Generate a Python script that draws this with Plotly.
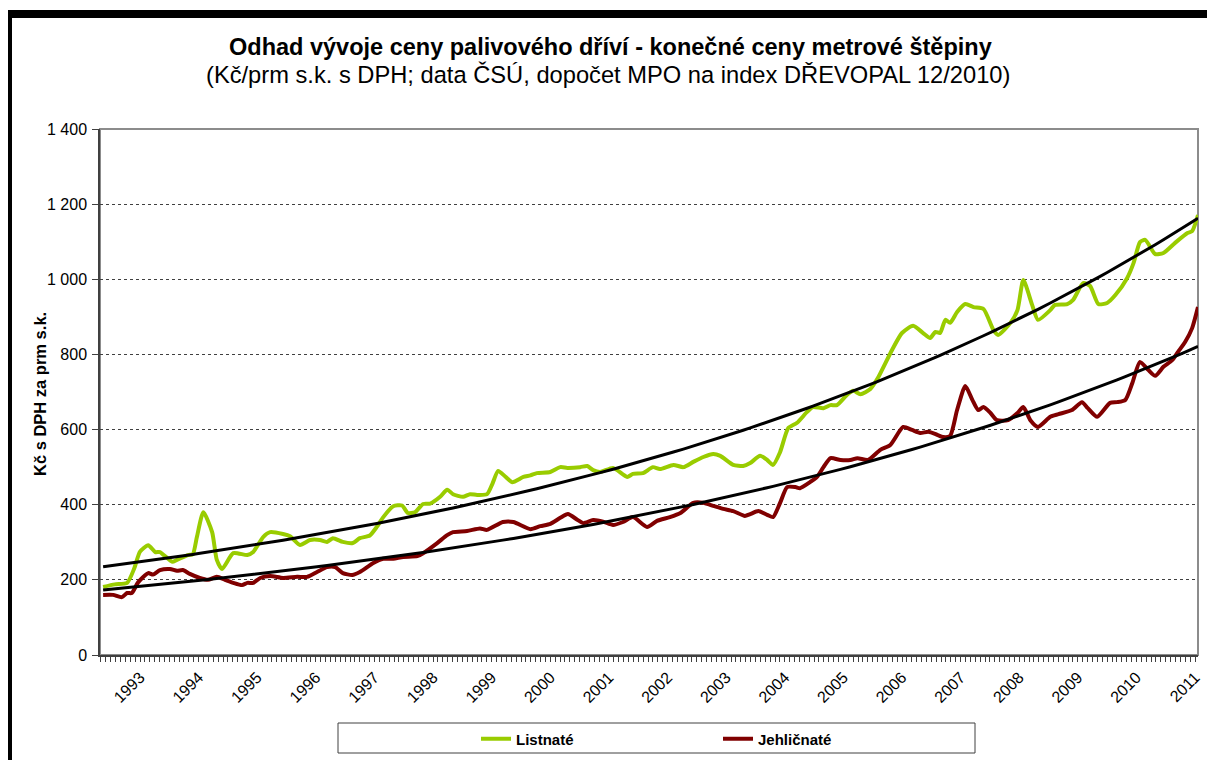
import numpy as np
import plotly.graph_objects as go

# data (decimal year, Kč/prm s.k.)
listnate_t = [1992.37, 1992.57, 1992.78, 1992.90, 1993.00, 1993.14, 1993.26, 1993.34, 1993.55, 1993.63,
              1993.82, 1993.90, 1993.97, 1994.08, 1994.23, 1994.31, 1994.40, 1994.59, 1994.83, 1994.93,
              1995.10, 1995.22, 1995.44, 1995.56, 1995.73, 1995.90, 1996.07, 1996.19, 1996.29, 1996.46,
              1996.63, 1996.75, 1996.92, 1997.04, 1997.15, 1997.32, 1997.47, 1997.57, 1997.69, 1997.83,
              1997.95, 1998.12, 1998.24, 1998.34, 1998.51, 1998.63, 1998.75, 1998.92, 1999.01, 1999.11,
              1999.23, 1999.35, 1999.54, 1999.66, 1999.77, 2000.00, 2000.17, 2000.29, 2000.51, 2000.63,
              2000.73, 2000.85, 2001.07, 2001.31, 2001.41, 2001.58, 2001.75, 2001.87, 2002.10, 2002.27,
              2002.44, 2002.61, 2002.78, 2002.90, 2003.12, 2003.29, 2003.41, 2003.58, 2003.70, 2003.80,
              2003.92, 2004.06, 2004.21, 2004.38, 2004.48, 2004.66, 2004.78, 2004.89, 2005.06, 2005.17,
              2005.29, 2005.46, 2005.58, 2005.83, 2006.00, 2006.19, 2006.36, 2006.48, 2006.57, 2006.65,
              2006.74, 2006.82, 2006.94, 2007.08, 2007.22, 2007.39, 2007.56, 2007.64, 2007.85, 2007.97,
              2008.07, 2008.22, 2008.32, 2008.53, 2008.61, 2008.82, 2008.92, 2009.09, 2009.21, 2009.35,
              2009.50, 2009.64, 2009.84, 2009.95, 2010.06, 2010.15, 2010.32, 2010.46, 2010.66, 2010.87,
              2010.95, 2011.05]
listnate_v = [181, 188, 192, 230, 275, 292, 274, 274, 248, 253,
              266, 268, 314, 380, 327, 253, 229, 271, 266, 274,
              314, 327, 322, 316, 293, 306, 306, 301, 311, 301,
              298, 311, 318, 341, 367, 396, 398, 378, 380, 402,
              403, 421, 440, 428, 421, 428, 426, 428, 455, 490,
              475, 460, 474, 478, 484, 487, 500, 498, 500, 503,
              492, 487, 498, 474, 482, 484, 500, 495, 506, 500,
              514, 527, 535, 530, 506, 503, 511, 530, 519, 506,
              540, 604, 618, 647, 660, 657, 665, 665, 692, 703,
              694, 708, 735, 812, 857, 876, 857, 844, 860, 857,
              892, 884, 913, 934, 926, 921, 865, 852, 884, 918,
              998, 932, 892, 918, 932, 934, 945, 990, 982, 934,
              937, 958, 1003, 1043, 1099, 1105, 1067, 1070, 1097, 1123,
              1128, 1171]

jehlicnate_t = [1992.37, 1992.54, 1992.69, 1992.78, 1992.86, 1992.97, 1993.14, 1993.22, 1993.34, 1993.51,
                1993.63, 1993.73, 1993.85, 1994.02, 1994.16, 1994.31, 1994.45, 1994.59, 1994.74, 1994.83,
                1994.93, 1995.05, 1995.22, 1995.44, 1995.68, 1995.85, 1996.02, 1996.19, 1996.33, 1996.46,
                1996.62, 1996.75, 1996.98, 1997.15, 1997.32, 1997.49, 1997.73, 1997.83, 1998.07, 1998.24,
                1998.34, 1998.58, 1998.80, 1998.92, 1999.19, 1999.37, 1999.66, 1999.83, 2000.00, 2000.17,
                2000.30, 2000.46, 2000.56, 2000.73, 2000.90, 2001.07, 2001.24, 2001.41, 2001.65, 2001.82,
                2002.04, 2002.22, 2002.44, 2002.61, 2002.78, 2002.95, 2003.12, 2003.32, 2003.41, 2003.55,
                2003.70, 2003.80, 2003.92, 2004.04, 2004.18, 2004.26, 2004.43, 2004.55, 2004.66, 2004.78,
                2004.95, 2005.12, 2005.24, 2005.42, 2005.63, 2005.80, 2006.02, 2006.17, 2006.31, 2006.45,
                2006.60, 2006.70, 2006.82, 2006.94, 2007.08, 2007.20, 2007.30, 2007.39, 2007.51, 2007.62,
                2007.81, 2007.97, 2008.07, 2008.19, 2008.32, 2008.53, 2008.67, 2008.90, 2009.07, 2009.17,
                2009.33, 2009.55, 2009.67, 2009.81, 2009.93, 2010.06, 2010.20, 2010.32, 2010.46, 2010.61,
                2010.71, 2010.83, 2010.95, 2011.05]
jehlicnate_v = [160, 160, 154, 165, 165, 194, 218, 214, 226, 229,
                224, 226, 216, 205, 200, 208, 200, 192, 186, 192,
                192, 205, 210, 205, 208, 208, 221, 234, 234, 218,
                213, 221, 245, 256, 256, 261, 263, 271, 298, 319,
                327, 330, 337, 333, 354, 354, 335, 343, 349, 365,
                375, 360, 351, 359, 355, 346, 354, 367, 341, 357,
                367, 378, 405, 405, 397, 389, 383, 370, 375, 383,
                373, 367, 405, 447, 447, 444, 460, 474, 500, 524,
                519, 519, 524, 519, 546, 559, 607, 599, 591, 594,
                586, 580, 583, 652, 716, 679, 652, 660, 644, 625,
                625, 644, 660, 625, 607, 634, 641, 652, 673, 657,
                634, 671, 673, 679, 724, 780, 759, 743, 767, 785,
                807, 833, 870, 926]

year_ticks = list(range(1993, 2012))
year_labels = [str(y) for y in year_ticks]

GREEN = '#99CC00'
MAROON = '#800000'
FONT = 'Liberation Sans, Arial, sans-serif'

# page body adds an 8px margin, so the figure is shifted and shrunk by that much
OFF = 8
W, H = 1215 - OFF, 760 - OFF
# plot area in reference pixels: x 100..1198, y 129..655
L, R, T, B = 100, 1198, 129, 655


def px_x(px):
    return (px - L) / (R - L)


def px_y(py):
    return (B - py) / (B - T)


def exp_trend(t, v):
    # exponential trendline like the Excel one: ln(v) = a*t + b
    t = np.array(t)
    a, b = np.polyfit(t, np.log(np.array(v)), 1)
    return t, np.exp(a * t + b)


fig = go.Figure()

fig.add_trace(go.Scatter(x=listnate_t, y=listnate_v, mode='lines', name='Listnaté',
                         line=dict(color=GREEN, width=4, shape='spline', smoothing=0.6)))
fig.add_trace(go.Scatter(x=jehlicnate_t, y=jehlicnate_v, mode='lines', name='Jehličnaté',
                         line=dict(color=MAROON, width=4, shape='spline', smoothing=0.6)))

for t, v in [(listnate_t, listnate_v), (jehlicnate_t, jehlicnate_v)]:
    tx, ty = exp_trend(t, v)
    fig.add_trace(go.Scatter(x=tx, y=ty, mode='lines', showlegend=False, hoverinfo='skip',
                             line=dict(color='black', width=3)))

fig.update_layout(
    width=W, height=H,
    margin=dict(l=L - OFF, r=1215 - R, t=T - OFF, b=760 - B, autoexpand=False),
    paper_bgcolor='white', plot_bgcolor='white',
    separators=', ',
    font=dict(family=FONT, color='black', size=16),
    showlegend=True,
    legend=dict(orientation='h', x=px_x(476), xanchor='left', y=px_y(739), yanchor='middle',
                font=dict(family=FONT, size=15, color='black', weight='bold'),
                entrywidth=197, entrywidthmode='pixels', bgcolor='rgba(0,0,0,0)'),
)

fig.update_xaxes(
    range=[1992.317, 2011.05],
    tickmode='array', tickvals=year_ticks, ticktext=year_labels, tickangle=-45,
    ticks='outside', ticklen=5, tickcolor='#404040',
    tickfont=dict(family=FONT, size=16, color='black'),
    minor=dict(tickmode='linear', tick0=1993, dtick=1 / 12, ticks='outside', ticklen=5,
               tickcolor='#404040', showgrid=False),
    showline=True, linecolor='#404040', linewidth=1.5,
    showgrid=False, zeroline=False,
)
fig.update_yaxes(
    range=[0, 1400], dtick=200, tickformat=',d',
    ticks='outside', ticklen=6, tickcolor='#404040', ticklabelstandoff=2,
    tickfont=dict(family=FONT, size=16, color='black'),
    showline=True, linecolor='#404040', linewidth=1.5,
    showgrid=True, gridcolor='#404040', gridwidth=1, griddash='dot',
    zeroline=False,
)

# plot-area frame, legend box and the thick black frame of the original picture
fig.add_shape(type='rect', xref='paper', yref='paper', x0=0, x1=1, y0=0, y1=1,
              line=dict(color='#8c8c8c', width=2), layer='between')
fig.add_shape(type='rect', xref='paper', yref='paper',
              x0=px_x(338), x1=px_x(975), y0=px_y(753), y1=px_y(723),
              line=dict(color='#404040', width=1), fillcolor='rgba(0,0,0,0)')
fig.add_shape(type='rect', xref='paper', yref='paper',
              x0=px_x(4), x1=px_x(1220), y0=px_y(18), y1=px_y(10),
              line=dict(width=0), fillcolor='black')
fig.add_shape(type='rect', xref='paper', yref='paper',
              x0=px_x(4), x1=px_x(12), y0=px_y(770), y1=px_y(10),
              line=dict(width=0), fillcolor='black')

fig.add_annotation(text='<b>Odhad vývoje ceny palivového dříví - konečné ceny metrové štěpiny</b>',
                   xref='paper', yref='paper', x=px_x(610), y=px_y(47), showarrow=False,
                   xanchor='center', yanchor='middle', font=dict(family=FONT, size=23.5, color='black'))
fig.add_annotation(text='(Kč/prm s.k. s DPH; data ČSÚ, dopočet MPO na index DŘEVOPAL 12/2010)',
                   xref='paper', yref='paper', x=px_x(608), y=px_y(75), showarrow=False,
                   xanchor='center', yanchor='middle', font=dict(family=FONT, size=23.7, color='black'))
fig.add_annotation(text='<b>Kč s DPH za prm s.k.</b>', textangle=-90,
                   xref='paper', yref='paper', x=px_x(40), y=px_y(394), showarrow=False,
                   xanchor='center', yanchor='middle', font=dict(family=FONT, size=16.5, color='black'))

fig.write_html("out.html")
